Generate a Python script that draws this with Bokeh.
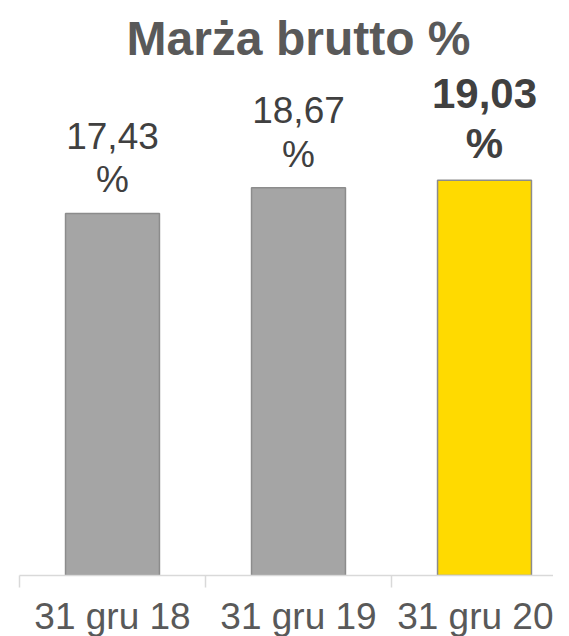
from bokeh.plotting import figure
from bokeh.models import ColumnDataSource, Range1d, LinearAxis, FixedTicker, Label
from bokeh.embed import file_html
from bokeh.resources import INLINE
from bokeh.core.properties import value

# data
categories = ["31 gru 18", "31 gru 19", "31 gru 20"]
margins = [17.43, 18.67, 19.03]
highlight = [False, False, True]
title_text = "Marża brutto %"

FONT = "Liberation Sans"
PX_PER_UNIT = 20.77
FRAME_H = 575
CAT_W = 186.0
LEFT = 19

xs = list(range(len(categories)))
labels = [("%.2f" % v).replace(".", ",") + "\n%" for v in margins]
fills = ["#FFDA00" if h else "#A5A5A5" for h in highlight]
styles = ["bold" if h else "normal" for h in highlight]
sizes = ["42px" if h else "37px" for h in highlight]

src = ColumnDataSource(dict(x=xs, top=margins, label=labels, fill=fills,
                            style=styles, size=sizes))

p = figure(width=553, frame_width=553, frame_height=FRAME_H,
           output_backend="svg", toolbar_location=None,
           x_range=Range1d(-0.5 - LEFT / CAT_W, -0.5 + (553 - LEFT) / CAT_W),
           y_range=Range1d(0, FRAME_H / PX_PER_UNIT),
           x_axis_location=None, y_axis_location=None, min_border=0)
p.outline_line_color = None
p.grid.visible = False
p.background_fill_color = "white"
p.border_fill_color = "white"

p.vbar(x="x", top="top", width=0.505, bottom=0, source=src,
       fill_color="fill", line_color="#8C8C8C", line_width=1.5)

p.text(x="x", y="top", text="label", source=src, text_align="center",
       text_baseline="bottom", y_offset=-13, text_font=value(FONT),
       text_font_size="size", text_font_style="style", text_color="#404040",
       text_line_height=1.07)

ax = LinearAxis(ticker=FixedTicker(ticks=xs,
                                   minor_ticks=[i - 0.5 for i in range(len(categories) + 1)]),
                major_label_overrides={i: c for i, c in enumerate(categories)})
ax.bounds = (-0.5, len(categories) - 0.5)
ax.axis_line_color = "#D9D9D9"
ax.axis_line_width = 1.5
ax.major_tick_line_color = None
ax.major_tick_out = 0
ax.major_tick_in = 0
ax.minor_tick_line_color = "#D9D9D9"
ax.minor_tick_line_width = 1.5
ax.minor_tick_out = 12
ax.minor_tick_in = 0
ax.major_label_standoff = 8
ax.major_label_text_font = FONT
ax.major_label_text_font_size = "37px"
ax.major_label_text_color = "#595959"
p.add_layout(ax, "below")

title = Label(x=1, y=(FRAME_H - 38) / PX_PER_UNIT, text=title_text,
              text_align="center", text_baseline="alphabetic",
              text_font=FONT, text_font_size="48px", text_font_style="bold",
              text_color="#595959")
p.add_layout(title)

open("out.html", "w").write(file_html(p, INLINE))
